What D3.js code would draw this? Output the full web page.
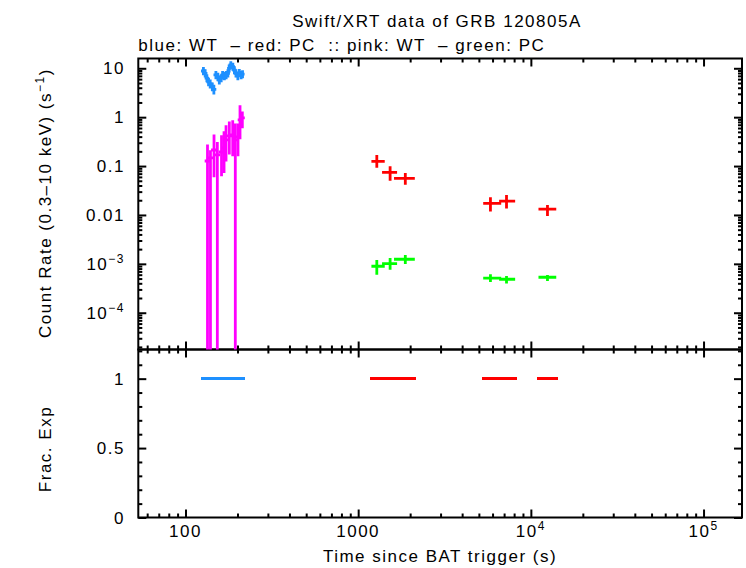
<!DOCTYPE html>
<html>
<head>
<meta charset="utf-8">
<script src="https://cdn.jsdelivr.net/npm/d3@7"></script>
<style>
  body { margin: 0; background: #fff; }
  text { font-family: "Liberation Sans", Arial, sans-serif; font-size: 17px; letter-spacing: 1.5px; fill: #000; }
</style>
</head>
<body>
<div id="chart"></div>
<script>
var width = 746, height = 568;
var plotLeft = 138.3, plotRight = 742, plotTop = 58.5, plotMid = 349.5, plotBottom = 517.5;

// WT (blue) counts
var blueT    = [127, 130, 133, 136, 139, 143, 146, 150, 154, 157, 161, 164, 168, 172, 176, 179, 183, 188, 192, 196, 201, 205, 210, 214];
var blueTlo  = [125.3, 128.5, 131.5, 134.5, 137.5, 141, 144.5, 148, 152, 155.5, 159, 162.5, 166, 170, 174, 177.5, 181, 185.5, 190, 194, 198.5, 203, 207.5, 212];
var blueThi  = [128.5, 131.5, 134.5, 137.5, 141, 144.5, 148, 152, 155.5, 159, 162.5, 166, 170, 174, 177.5, 181, 185.5, 190, 194, 198.5, 203, 207.5, 212, 215.8];
var blueRate = [8.8, 7.9, 6.3, 5.3, 4.8, 4.2, 3.7, 7.3, 6.7, 5.8, 6.3, 7.3, 7.0, 7.3, 7.9, 10.0, 11.7, 10.8, 9.2, 7.9, 7.0, 8.1, 7.3, 7.6];
var blueErr  = [1.1, 1.0, 0.8, 0.7, 0.7, 0.6, 0.6, 0.9, 0.9, 0.8, 0.8, 0.9, 0.9, 0.9, 1.0, 1.2, 1.4, 1.3, 1.1, 1.0, 0.9, 1.0, 0.9, 0.9];

// WT (pink)
var pinkT    = [134.1, 139.5, 146.3, 152.9, 161.7, 167.2, 171.7, 179.4, 187.7, 194.3, 201.4, 206.9, 213.4];
var pinkTerr = [2.5, 2.5, 3, 3, 3, 2.5, 2.5, 3.5, 4, 3, 3.5, 2.5, 3];
var pinkRate = [0.127, 0.147, 0.213, 0.169, 0.194, 0.234, 0.342, 0.413, 0.433, 0.342, 0.394, 0.877, 0.964];
var pinkLo   = [0, 0, 0.0628, 0, 0.0658, 0.0768, 0.133, 0.185, 0.169, 0, 0.169, 0.376, 0.631];
var pinkHi   = [0.258, 0.197, 0.413, 0.292, 0.399, 0.482, 0.640, 0.760, 0.809, 0.692, 0.692, 1.64, 1.22];

// PC bins (red and green share times)
var pcT    = [1282, 1531, 1875, 5834, 7228, 12480];
var pcTlo  = [1193, 1375, 1613, 5297, 6550, 11070];
var pcThi  = [1425, 1680, 2128, 6734, 8110, 14030];
var redRate = [0.125, 0.0746, 0.0562, 0.0173, 0.0191, 0.0131];
var redLo   = [0.0927, 0.0502, 0.0417, 0.0117, 0.0135, 0.00955];
var redHi   = [0.169, 0.099, 0.0722, 0.0230, 0.0256, 0.0160];
var greenRate = [8.93e-4, 1.01e-3, 1.24e-3, 5.08e-4, 4.84e-4, 5.32e-4];
var greenLo   = [6.01e-4, 7.60e-4, 9.95e-4, 4.27e-4, 3.94e-4, 4.47e-4];
var greenHi   = [1.20e-3, 1.32e-3, 1.52e-3, 6.13e-4, 5.66e-4, 5.93e-4];

// fractional exposure
var blueFrac = [1, 1, 1, 1, 1, 1, 1, 1, 1, 1, 1, 1, 1, 1, 1, 1, 1, 1, 1, 1, 1, 1, 1, 1];
var redFrac  = [1, 1, 1, 1, 1, 1];

// ticks
var xMajor = [100, 1000, 1e4, 1e5];
var xLabelBase = ["100", "1000", "10", "10"];
var xLabelExp  = ["", "", "4", "5"];
var yMajor = [10, 1, 0.1, 0.01, 1e-3, 1e-4];
var yLabelBase = ["10", "1", "0.1", "0.01", "10", "10"];
var yLabelExp  = ["", "", "", "", "\u22123", "\u22124"];
var fMajor = [0, 0.5, 1];
var fLabels = ["0", "0.5", "1"];

var blue = "#1e90ff", pink = "#ff00ff", red = "#ff0000", green = "#00ff00";

var x = d3.scaleLog().domain([53.3, 167000]).range([plotLeft, plotRight]);
var y = d3.scaleLog().domain([1.77e-5, 15.85]).range([plotMid, plotTop]);
var yf = d3.scaleLinear().domain([0, 1.21]).range([plotBottom, plotMid]);

var xMinor = [];
[10, 100, 1000, 1e4, 1e5].forEach(function(d) {
  d3.range(2, 10).forEach(function(k) {
    var v = d * k;
    if (v > x.domain()[0] && v < x.domain()[1]) xMinor.push(v);
  });
});
var yMinor = [];
[1e-5, 1e-4, 1e-3, 0.01, 0.1, 1, 10].forEach(function(d) {
  d3.range(2, 10).forEach(function(k) {
    var v = d * k;
    if (v > y.domain()[0] && v < y.domain()[1]) yMinor.push(v);
  });
});
var fMinor = [0.1, 0.2, 0.3, 0.4, 0.6, 0.7, 0.8, 0.9, 1.1, 1.2];

var svg = d3.select("#chart").append("svg")
  .attr("width", width)
  .attr("height", height);

svg.append("rect").attr("width", width).attr("height", height).attr("fill", "#fff");

svg.append("clipPath").attr("id", "clipMain")
  .append("rect")
  .attr("x", plotLeft).attr("y", plotTop)
  .attr("width", plotRight - plotLeft).attr("height", plotMid - plotTop);

// tick helper: marks only, labels are drawn by hand
function ticks(axisFn, scale, values, size, tx, ty) {
  var g = svg.append("g")
    .attr("transform", "translate(" + tx + "," + ty + ")")
    .call(axisFn(scale).tickValues(values).tickSize(size).tickFormat(""));
  g.select(".domain").remove();
  g.selectAll("line").attr("stroke", "#000").attr("stroke-width", 2);
}

// x ticks: top of main, both sides of the divider, bottom of lower panel
[[d3.axisBottom, plotTop], [d3.axisTop, plotMid], [d3.axisBottom, plotMid], [d3.axisTop, plotBottom]].forEach(function(a) {
  ticks(a[0], x, xMajor, 8, 0, a[1]);
  ticks(a[0], x, xMinor, 4, 0, a[1]);
});
// y ticks main
ticks(d3.axisRight, y, yMajor, 8, plotLeft, 0);
ticks(d3.axisRight, y, yMinor, 4, plotLeft, 0);
ticks(d3.axisLeft, y, yMajor, 8, plotRight, 0);
ticks(d3.axisLeft, y, yMinor, 4, plotRight, 0);
// y ticks lower
ticks(d3.axisRight, yf, fMajor, 8, plotLeft, 0);
ticks(d3.axisRight, yf, fMinor, 4, plotLeft, 0);
ticks(d3.axisLeft, yf, fMajor, 8, plotRight, 0);
ticks(d3.axisLeft, yf, fMinor, 4, plotRight, 0);

// frames
[[plotTop, plotMid], [plotMid, plotBottom]].forEach(function(p) {
  svg.append("rect")
    .attr("x", plotLeft).attr("y", p[0])
    .attr("width", plotRight - plotLeft).attr("height", p[1] - p[0])
    .attr("fill", "none").attr("stroke", "#000").attr("stroke-width", 2);
});

// data crosses
var main = svg.append("g").attr("clip-path", "url(#clipMain)");
var yMin = y.domain()[0];

function crosses(t, tlo, thi, v, lo, hi, color, cap) {
  var g = main.append("g").attr("stroke", color).attr("stroke-width", 2.8)
    .attr("fill", "none").attr("stroke-linecap", cap);
  t.forEach(function(d, i) {
    g.append("line")
      .attr("x1", x(tlo[i])).attr("x2", x(thi[i]))
      .attr("y1", y(v[i])).attr("y2", y(v[i]));
    g.append("line")
      .attr("x1", x(d)).attr("x2", x(d))
      .attr("y1", y(Math.max(lo[i], yMin))).attr("y2", y(hi[i]));
  });
}

crosses(blueT, blueTlo, blueThi,
  blueRate, blueRate.map((d, i) => d - blueErr[i]), blueRate.map((d, i) => d + blueErr[i]), blue, "square");
crosses(pinkT, pinkT.map((d, i) => d - pinkTerr[i]), pinkT.map((d, i) => d + pinkTerr[i]),
  pinkRate, pinkLo, pinkHi, pink, "square");
crosses(pcT, pcTlo, pcThi, redRate, redLo, redHi, red, "butt");
crosses(pcT, pcTlo, pcThi, greenRate, greenLo, greenHi, green, "butt");

// fractional exposure
var lower = svg.append("g").attr("stroke-width", 3).attr("stroke-linecap", "square")
  .attr("shape-rendering", "crispEdges");
blueT.forEach(function(d, i) {
  lower.append("line").attr("stroke", blue)
    .attr("x1", x(blueTlo[i])).attr("x2", x(blueThi[i]))
    .attr("y1", yf(blueFrac[i])).attr("y2", yf(blueFrac[i]));
});
pcT.forEach(function(d, i) {
  lower.append("line").attr("stroke", red)
    .attr("x1", x(pcTlo[i])).attr("x2", x(pcThi[i]))
    .attr("y1", yf(redFrac[i])).attr("y2", yf(redFrac[i]));
});

// labels
function supText(sel, base, exp) {
  sel.append("tspan").text(base);
  if (exp) sel.append("tspan").attr("dy", -7).style("font-size", "12px").text(exp);
}

xMajor.forEach(function(d, i) {
  var t = svg.append("text").attr("x", x(d)).attr("y", 537).attr("text-anchor", "middle");
  supText(t, xLabelBase[i], xLabelExp[i]);
});
yMajor.forEach(function(d, i) {
  var t = svg.append("text").attr("x", 125).attr("y", y(d) + 6).attr("text-anchor", "end");
  supText(t, yLabelBase[i], yLabelExp[i]);
});
fMajor.forEach(function(d, i) {
  svg.append("text").attr("x", 125).attr("y", yf(d) + 6).attr("text-anchor", "end").text(fLabels[i]);
});

svg.append("text").attr("x", 437).attr("y", 27).attr("text-anchor", "middle")
  .text("Swift/XRT data of GRB 120805A");
svg.append("text").attr("x", plotLeft).attr("y", 51)
  .text("blue: WT  \u2013 red: PC  :: pink: WT  \u2013 green: PC").style("white-space", "pre");
svg.append("text").attr("x", 440).attr("y", 562).attr("text-anchor", "middle")
  .text("Time since BAT trigger (s)");

var yt = svg.append("text").attr("transform", "translate(51,203) rotate(-90)").attr("text-anchor", "middle");
yt.append("tspan").text("Count Rate (0.3\u201310 keV) (s");
yt.append("tspan").attr("dy", -7).style("font-size", "12px").text("\u22121");
yt.append("tspan").attr("dy", 7).text(")");

svg.append("text").attr("transform", "translate(51,449) rotate(-90)").attr("text-anchor", "middle")
  .text("Frac. Exp");
</script>
</body>
</html>
